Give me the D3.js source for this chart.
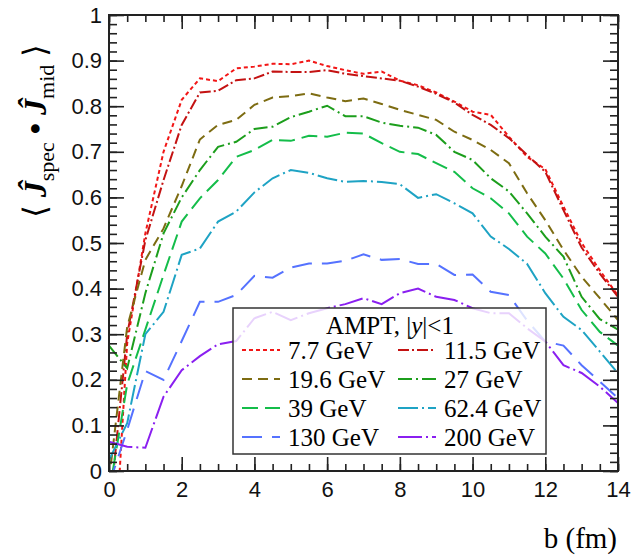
<!DOCTYPE html>
<html lang="en">
<head>
  <meta charset="utf-8">
  <title>J spec . J mid vs b</title>
  <script src="https://d3js.org/d3.v7.min.js"></script>
  <style>
    body { margin: 0; background: #fff; }
    .tick text { font-family: "Liberation Sans", Arial, sans-serif; font-size: 22px; fill: #111; }
  </style>
</head>
<body>
<div id="chart"></div>
<script>
// impact parameter grid (fm)
const bVals = [0, 0.5, 1, 1.5, 2, 2.5, 3, 3.5, 4, 4.5, 5, 5.5, 6, 6.5, 7, 7.5,
               8, 8.5, 9, 9.5, 10, 10.5, 11, 11.5, 12, 12.5, 13, 13.5, 14];

// one array per beam energy
const s7_7  = [-0.40, 0.28, 0.521, 0.700, 0.814, 0.861, 0.855, 0.883, 0.887, 0.893, 0.892, 0.900, 0.888, 0.879, 0.871, 0.876, 0.856, 0.846, 0.830, 0.810, 0.788, 0.781, 0.733, 0.689, 0.662, 0.580, 0.500, 0.440, 0.385];
const s11_5 = [-0.10, 0.30, 0.506, 0.638, 0.759, 0.830, 0.834, 0.857, 0.861, 0.876, 0.875, 0.875, 0.879, 0.871, 0.866, 0.861, 0.856, 0.843, 0.827, 0.808, 0.781, 0.759, 0.730, 0.693, 0.656, 0.572, 0.490, 0.433, 0.382];
const s19_6 = [-0.02, 0.316, 0.463, 0.532, 0.625, 0.727, 0.759, 0.770, 0.803, 0.819, 0.822, 0.828, 0.819, 0.811, 0.817, 0.805, 0.792, 0.781, 0.770, 0.744, 0.726, 0.704, 0.675, 0.609, 0.550, 0.485, 0.426, 0.379, 0.331];
const s27   = [0.275, 0.225, 0.390, 0.521, 0.600, 0.660, 0.711, 0.722, 0.750, 0.755, 0.776, 0.788, 0.801, 0.778, 0.778, 0.764, 0.757, 0.753, 0.737, 0.700, 0.682, 0.642, 0.613, 0.565, 0.514, 0.470, 0.382, 0.333, 0.310];
const s39   = [-0.05, 0.190, 0.310, 0.430, 0.547, 0.598, 0.638, 0.689, 0.704, 0.726, 0.724, 0.735, 0.733, 0.742, 0.740, 0.719, 0.700, 0.695, 0.675, 0.656, 0.620, 0.598, 0.565, 0.514, 0.477, 0.422, 0.353, 0.305, 0.275];
const s62_4 = [0.024, 0.105, 0.300, 0.349, 0.474, 0.488, 0.547, 0.569, 0.611, 0.642, 0.660, 0.654, 0.642, 0.634, 0.636, 0.634, 0.629, 0.599, 0.607, 0.587, 0.565, 0.514, 0.487, 0.454, 0.390, 0.338, 0.309, 0.262, 0.214];
const s130  = [-0.03, 0.090, 0.219, 0.200, 0.285, 0.371, 0.371, 0.386, 0.428, 0.424, 0.446, 0.455, 0.455, 0.461, 0.475, 0.463, 0.465, 0.454, 0.454, 0.430, 0.431, 0.393, 0.386, 0.330, 0.284, 0.275, 0.232, 0.196, 0.160];
const s200  = [0.064, 0.053, 0.051, 0.163, 0.221, 0.252, 0.278, 0.285, 0.335, 0.349, 0.331, 0.346, 0.357, 0.366, 0.379, 0.366, 0.390, 0.400, 0.382, 0.375, 0.357, 0.346, 0.346, 0.313, 0.284, 0.232, 0.215, 0.185, 0.149];

const labels = ["7.7 GeV", "11.5 GeV", "19.6 GeV", "27 GeV", "39 GeV", "62.4 GeV", "130 GeV", "200 GeV"];
const xTicks = [0, 2, 4, 6, 8, 10, 12, 14];
const yTicks = [0, 0.1, 0.2, 0.3, 0.4, 0.5, 0.6, 0.7, 0.8, 0.9, 1];

// styling per series (same order as labels)
const series = [
  { v: s7_7,  color: "#f21616", dash: "4,3" },
  { v: s11_5, color: "#c41212", dash: "11,3,2,3" },
  { v: s19_6, color: "#7d6c12", dash: "10,6" },
  { v: s27,   color: "#1c9e1c", dash: "14,4,2,4" },
  { v: s39,   color: "#14bd4a", dash: "16,7" },
  { v: s62_4, color: "#1ea3c4", dash: "20,4,2,4" },
  { v: s130,  color: "#5572ff", dash: "20,10" },
  { v: s200,  color: "#8a1ff0", dash: "24,4,2,4" }
];

const W = 634, H = 555;
const pL = 109, pR = 618, pT = 15, pB = 471;

const svg = d3.select("#chart").append("svg")
  .attr("width", W).attr("height", H);

const x = d3.scaleLinear().domain([0, 14]).range([pL, pR]);
const y = d3.scaleLinear().domain([0, 1]).range([pB, pT]);

svg.append("clipPath").attr("id", "plotclip")
  .append("rect")
    .attr("x", pL).attr("y", pT)
    .attr("width", pR - pL).attr("height", pB - pT);

const line = d3.line()
  .x((d, i) => x(bVals[i]))
  .y(d => y(d));

// curves
const g = svg.append("g").attr("clip-path", "url(#plotclip)");
series.forEach(s => {
  g.append("path")
    .datum(s.v)
    .attr("d", line)
    .attr("fill", "none")
    .attr("stroke", s.color)
    .attr("stroke-width", 2)
    .attr("stroke-dasharray", s.dash);
});

// legend box (ROOT style, slightly see-through)
const lg = svg.append("g");
lg.append("rect")
  .attr("x", 233).attr("y", 308).attr("width", 313).attr("height", 146)
  .attr("fill", "#fff").attr("fill-opacity", 0.8)
  .attr("stroke", "#333").attr("stroke-width", 1.5);

const title = lg.append("text")
  .attr("x", 390).attr("y", 334)
  .attr("text-anchor", "middle")
  .style("font-family", "'Liberation Serif', 'Times New Roman', serif")
  .style("font-size", "25px");
title.append("tspan").text("AMPT, |");
title.append("tspan").style("font-style", "italic").text("y");
title.append("tspan").text("|<1");

series.forEach((s, i) => {
  const col = i % 2, row = Math.floor(i / 2);
  const lx = col === 0 ? 242 : 398;
  const ly = 350 + row * 29;
  lg.append("line")
    .attr("x1", lx).attr("x2", lx + 38)
    .attr("y1", ly).attr("y2", ly)
    .attr("stroke", s.color).attr("stroke-width", 2)
    .attr("stroke-dasharray", s.dash);
  lg.append("text")
    .attr("x", lx + 46).attr("y", ly + 9)
    .style("font-family", "'Liberation Serif', 'Times New Roman', serif")
    .style("font-size", "25px")
    .text(labels[i]);
});

// axes: majors + minors on all four sides, ticks pointing inwards
function styleAxis(sel) {
  sel.select(".domain").remove();
  sel.selectAll(".tick line").attr("stroke", "#222").attr("stroke-width", 1.6);
}
const xMinor = d3.range(0, 14.01, 0.5);
const yMinor = d3.range(0, 1.001, 0.02);

svg.append("g").attr("transform", `translate(0,${pB})`)
  .call(d3.axisBottom(x).tickValues(xTicks).tickSizeInner(-14).tickPadding(10).tickFormat(d3.format("d")))
  .call(styleAxis);
svg.append("g").attr("transform", `translate(0,${pB})`)
  .call(d3.axisBottom(x).tickValues(xMinor).tickSize(-7).tickFormat(""))
  .call(styleAxis);
svg.append("g").attr("transform", `translate(0,${pT})`)
  .call(d3.axisTop(x).tickValues(xTicks).tickSize(-14).tickFormat(""))
  .call(styleAxis);
svg.append("g").attr("transform", `translate(0,${pT})`)
  .call(d3.axisTop(x).tickValues(xMinor).tickSize(-7).tickFormat(""))
  .call(styleAxis);

svg.append("g").attr("transform", `translate(${pL},0)`)
  .call(d3.axisLeft(y).tickValues(yTicks).tickSizeInner(-15).tickPadding(7).tickFormat(d => d === 0 || d === 1 ? d3.format("d")(d) : d3.format(".1f")(d)))
  .call(styleAxis);
svg.append("g").attr("transform", `translate(${pL},0)`)
  .call(d3.axisLeft(y).tickValues(yMinor).tickSize(-8).tickFormat(""))
  .call(styleAxis);
svg.append("g").attr("transform", `translate(${pR},0)`)
  .call(d3.axisRight(y).tickValues(yTicks).tickSize(-15).tickFormat(""))
  .call(styleAxis);
svg.append("g").attr("transform", `translate(${pR},0)`)
  .call(d3.axisRight(y).tickValues(yMinor).tickSize(-8).tickFormat(""))
  .call(styleAxis);

// frame
svg.append("rect")
  .attr("x", pL).attr("y", pT)
  .attr("width", pR - pL).attr("height", pB - pT)
  .attr("fill", "none").attr("stroke", "#222").attr("stroke-width", 2);

// axis titles
svg.append("text")
  .attr("x", 617).attr("y", 548)
  .attr("text-anchor", "end")
  .style("font-family", "'Liberation Serif', 'Times New Roman', serif")
  .style("font-size", "29px")
  .text("b (fm)");

const yl = svg.append("text")
  .attr("transform", "translate(46,131) rotate(-90)")
  .attr("text-anchor", "middle")
  .style("font-family", "'Liberation Serif', 'DejaVu Serif', serif")
  .style("font-size", "32px");
yl.append("tspan").text("\u27E8 ");
yl.append("tspan").style("font-style", "italic").style("font-weight", "bold").text("\u0134");
yl.append("tspan").attr("dy", 8).style("font-size", "22px").text("spec");
yl.append("tspan").attr("dy", -8).style("font-weight", "bold").text(" \u2022 ");
yl.append("tspan").style("font-style", "italic").style("font-weight", "bold").text("\u0134");
yl.append("tspan").attr("dy", 8).style("font-size", "22px").text("mid");
yl.append("tspan").attr("dy", -8).text(" \u27E9");
</script>
</body>
</html>
